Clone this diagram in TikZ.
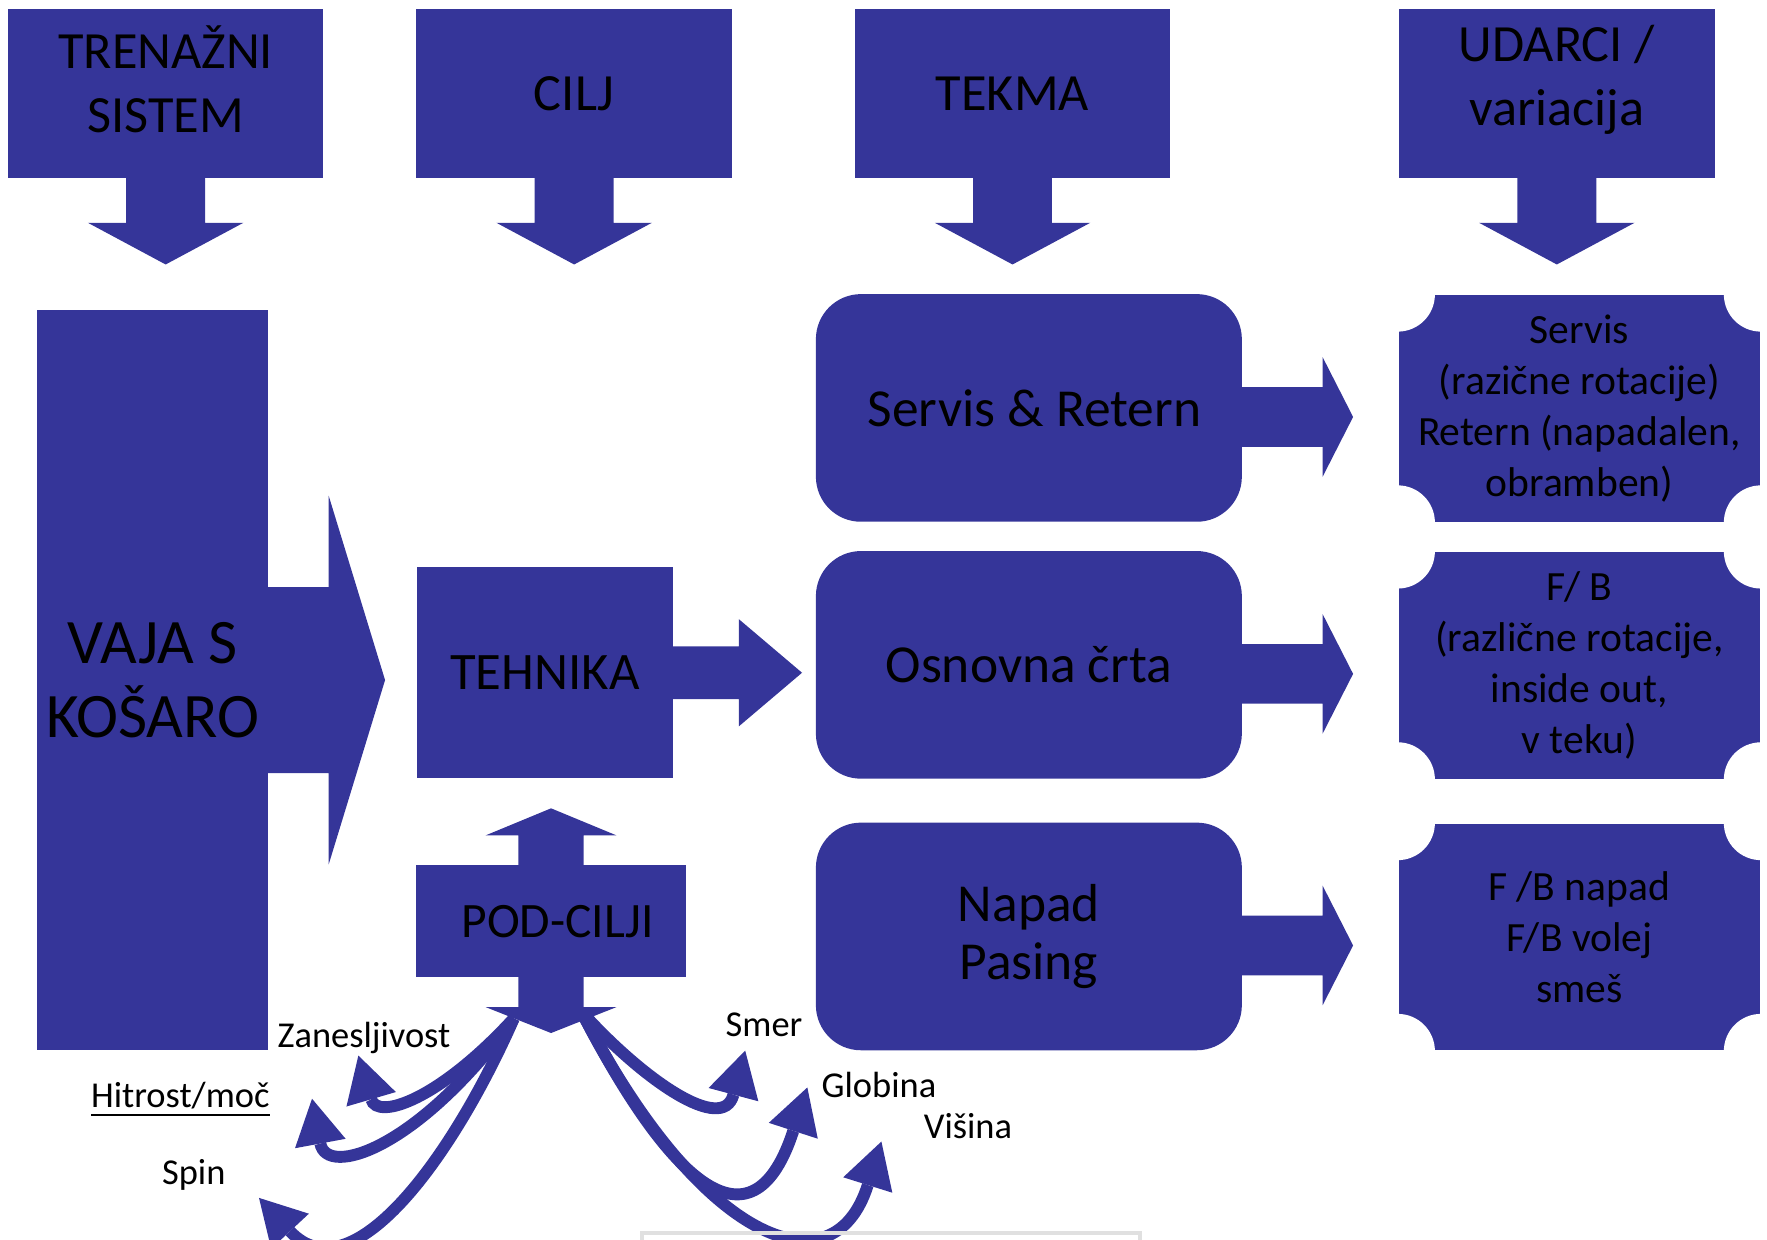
\documentclass[tikz,border=0pt]{standalone}
\usepackage{fontspec}
\setmainfont{Carlito}
\usetikzlibrary{arrows.meta}
\definecolor{plava}{RGB}{53,53,153}
\tikzset{
  blok/.style={fill=plava, inner sep=0pt, align=center, text=black},
  glava/.style={blok, minimum width=28mm, minimum height=15mm, font=\fontsize{13.2}{16.2}\selectfont},
  okvir/.style={blok, rounded corners=4mm, minimum width=37.8mm, minimum height=20.2mm, font=\fontsize{13.5}{14.5}\selectfont},
  plaketa/.style={blok, minimum width=32.1mm, minimum height=20.1mm, font=\fontsize{10.5}{12.9}\selectfont},
  oznaka/.style={inner sep=0pt, font=\fontsize{9.2}{11}\selectfont},
  krivulja/.style={color=plava, line width=3pt, -{Triangle[length=11.5pt,width=13pt,fill=plava,line width=0pt]}},
}
\begin{document}
\begin{tikzpicture}[x=0.1mm, y=-0.1mm]
\useasboundingbox (0,0) rectangle (1568,1100);
% \draw[help lines] (0,0) grid[step=100] (1568,1100);
\node[glava] (trening) at (147,83) {TRENAŽNI\\SISTEM\\[-9pt]\mbox{}};
\node[glava] (cilj) at (509.5,83) {CILJ};
\node[glava] (tekma) at (898.5,83) {TEKMA};
\node[glava] (udarci) at (1381.5,83) {UDARCI /\\variacija\\[-7pt]\mbox{}};
\foreach \n in {trening,cilj,tekma,udarci}
  \fill[plava] ([shift={(-35,-1)}]\n.south) -- ++(0,40) -- ++(-34,0) -- ++(69,37) -- ++(69,-37) -- ++(-34,0) -- ++(0,-40) -- cycle;

\node[blok, minimum width=20.5mm, minimum height=65.7mm, font=\fontsize{16}{18.8}\selectfont] (vaja) at (135.5,603.5) {VAJA S\\KOŠARO};
\fill[plava] ([shift={(-1,-82.5)}]vaja.east) -- ++(54,0) -- ++(0,-81) -- ++(50,163.5) -- ++(-50,163.5) -- ++(0,-81) -- ++(-54,0) -- cycle;

\node[blok, minimum width=22.7mm, minimum height=18.7mm, font=\fontsize{13.3}{16}\selectfont] (tehnika) at (483.5,596.5) {TEHNIKA};
\fill[plava] ([shift={(-1,-23)}]tehnika.east) -- ++(59,0) -- ++(0,-24) -- ++(56,47.5) -- ++(-56,47.5) -- ++(0,-24) -- ++(-59,0) -- cycle;

\node[blok, minimum width=24mm, minimum height=9.9mm, font=\fontsize{12.5}{15}\selectfont] (pod) at (489,817.5) {\hspace{1.2mm}POD-CILJI};
\fill[plava] ([shift={(-29,1)}]pod.north) -- ++(0,-27) -- ++(-29,0) -- ++(58,-24) -- ++(58,24) -- ++(-29,0) -- ++(0,27) -- cycle;
\fill[plava] ([shift={(-29,-1)}]pod.south) -- ++(0,27) -- ++(-29,0) -- ++(58,23) -- ++(58,-23) -- ++(-29,0) -- ++(0,-27) -- cycle;

\node[okvir] (servis) at (913,362) {\hspace{1mm}Servis \& Retern};
\node[okvir] (osnovna) at (913,590) {Osnovna črta};
\node[okvir] (napad) at (913,831) {Napad\\Pasing};
\foreach \n in {servis,osnovna,napad}
  \fill[plava] ([shift={(-1,-18.5)}]\n.east) -- ++(72,0) -- ++(0,-26.5) -- ++(27,53) -- ++(-27,53) -- ++(0,-26.5) -- ++(-72,0) -- cycle;

\node[plaketa] (servisu) at (1401.5,362.5) {Servis\\(razične rotacije)\\Retern (napadalen,\\obramben)};
\node[plaketa] (fb) at (1401.5,590.5) {F/ B\\(različne rotacije,\\inside out,\\v teku)};
\node[plaketa] (fbnapad) at (1401.5,831.5) {F /B napad\\F/B volej\\smeš};
\foreach \n in {servisu,fb,fbnapad}
  \foreach \k in {north west,north east,south west,south east}
    \fill[white] (\n.\k) circle[radius=33];

\node[oznaka] (zan) at (323,921) {Zanesljivost};
\node[oznaka] (hit) at (160,976) {\underline{Hitrost/moč}};
\node[oznaka] (spin) at (172,1043) {Spin};
\node[oznaka] (smer) at (678,909) {Smer};
\node[oznaka] (glob) at (780,963) {Globina};
\node[oznaka] (vis) at (859,999) {Višina};

\coordinate (levo) at ([shift={(-33,36)}]pod.south);
\coordinate (desno) at ([shift={(27,30)}]pod.south);
\draw[krivulja] (levo) .. controls +(-66,72) and +(17,58) .. ([shift={(-5,1)}]zan.south);
\draw[krivulja] (levo) .. controls +(-86,117) and +(13,70) .. ([shift={(37,-1)}]hit.east);
\draw[krivulja] (levo) .. controls +(-56,127) and +(81,87) .. ([shift={(29,20)}]spin.east);
\draw[krivulja] (desno) .. controls +(54,60) and +(-20,75) .. ([shift={(18,12)}]smer.south west);
\draw[krivulja] (desno) .. controls +(84,163) and +(-47,145) .. ([shift={(-12,2)}]glob.west);
\draw[krivulja] (desno) .. controls +(104,203) and +(-43,137) .. ([shift={(-37,14)}]vis.west);

\draw[black!12, line width=1pt] (570,1101) |- (1012,1094) -- (1012,1101);
\end{tikzpicture}
\end{document}
